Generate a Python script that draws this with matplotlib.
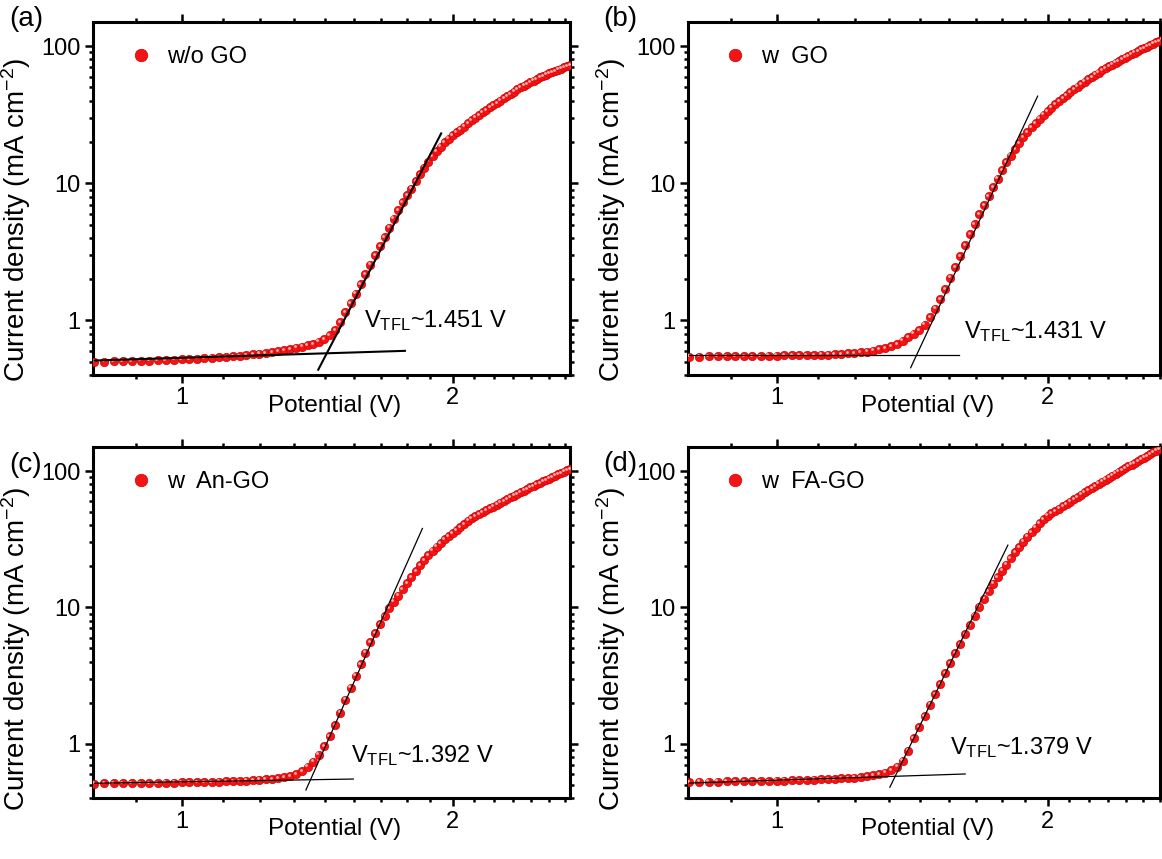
import numpy as np
import matplotlib
matplotlib.use('Agg')
import matplotlib.pyplot as plt
from matplotlib import transforms
from matplotlib.ticker import FixedLocator, FixedFormatter, NullFormatter

plt.rcParams['font.family'] = ['Liberation Sans', 'DejaVu Sans']
plt.rcParams['mathtext.fontset'] = 'custom'
plt.rcParams['mathtext.rm'] = 'Liberation Sans'
plt.rcParams['mathtext.it'] = 'Liberation Sans:italic'

# voltage sweep, 20 mV steps
potential = np.round(np.arange(0.80, 2.701, 0.02), 2)

j_a = [0.500, 0.501, 0.503, 0.504, 0.506, 0.508, 0.510, 0.512, 0.515, 0.517,
       0.520, 0.523, 0.526, 0.530, 0.534, 0.538, 0.542, 0.547, 0.552, 0.558,
       0.565, 0.572, 0.580, 0.589, 0.599, 0.610, 0.620, 0.632, 0.645, 0.660,
       0.675, 0.700, 0.730, 0.780, 0.845, 0.970, 1.15, 1.34, 1.57, 1.84,
       2.17, 2.55, 2.98, 3.48, 4.06, 4.74, 5.52, 6.38, 7.31, 8.20,
       9.15, 10.4, 11.7, 13.0, 14.4, 15.7, 17.1, 18.5, 19.9, 21.2,
       22.4, 23.5, 24.6, 25.9, 27.3, 28.7, 30.1, 31.5, 32.9, 34.3,
       35.7, 37.1, 38.6, 40.1, 41.7, 43.3, 44.9, 46.6, 48.3, 50.0,
       51.6, 53.1, 54.6, 56.1, 57.6, 59.1, 60.5, 61.9, 63.3, 64.7,
       66.0, 67.3, 68.6, 69.9, 71.2, 72.5]

j_b = [0.545, 0.545, 0.546, 0.547, 0.548, 0.549, 0.550, 0.551, 0.552, 0.553,
       0.554, 0.555, 0.556, 0.557, 0.558, 0.560, 0.562, 0.564, 0.567, 0.570,
       0.574, 0.579, 0.585, 0.593, 0.602, 0.614, 0.628, 0.648, 0.675, 0.712,
       0.755, 0.800, 0.850, 0.930, 1.06, 1.22, 1.43, 1.70, 2.05, 2.45,
       2.95, 3.55, 4.25, 5.05, 5.95, 6.95, 8.10, 9.35, 10.8, 12.4,
       14.2, 15.9, 17.7, 19.6, 21.6, 23.6, 25.6, 27.6, 29.6, 31.6,
       33.6, 35.6, 37.7, 39.8, 41.9, 44.0, 46.2, 48.4, 50.6, 52.8,
       55.0, 57.3, 59.6, 61.9, 64.2, 66.5, 68.8, 71.1, 73.4, 75.7,
       78.0, 80.3, 82.6, 85.0, 87.4, 89.8, 92.2, 94.6, 97.0, 99.4,
       101.8, 104.2, 106.6, 109.0, 111.4, 113.8]

j_c = [0.510, 0.511, 0.512, 0.513, 0.514, 0.515, 0.516, 0.517, 0.518, 0.519,
       0.520, 0.521, 0.522, 0.523, 0.525, 0.527, 0.529, 0.531, 0.534, 0.537,
       0.540, 0.544, 0.548, 0.553, 0.559, 0.567, 0.578, 0.597, 0.630, 0.680,
       0.740, 0.830, 0.960, 1.13, 1.37, 1.69, 2.10, 2.58, 3.15, 3.85,
       4.65, 5.55, 6.50, 7.50, 8.65, 9.85, 11.0, 12.2, 13.6, 15.1,
       16.6, 18.4, 20.3, 22.2, 24.1, 26.0, 27.9, 29.7, 31.5, 33.2,
       34.9, 36.9, 38.9, 41.0, 43.2, 45.0, 46.6, 48.2, 49.8, 51.5,
       53.2, 54.9, 56.7, 58.5, 60.3, 62.1, 64.0, 65.9, 67.8, 69.7,
       71.7, 73.7, 75.7, 77.7, 79.7, 81.8, 83.9, 86.0, 88.1, 90.2,
       92.3, 94.4, 96.6, 98.8, 101.0, 103.2]

j_d = [0.525, 0.526, 0.527, 0.528, 0.529, 0.530, 0.531, 0.532, 0.533, 0.534,
       0.535, 0.537, 0.539, 0.541, 0.543, 0.545, 0.547, 0.550, 0.553, 0.556,
       0.560, 0.565, 0.571, 0.578, 0.588, 0.600, 0.615, 0.640, 0.680, 0.750,
       0.890, 1.10, 1.33, 1.60, 1.93, 2.30, 2.75, 3.28, 3.90, 4.60,
       5.40, 6.35, 7.45, 8.70, 10.1, 11.6, 13.2, 14.9, 16.7, 18.6,
       20.6, 22.9, 25.3, 27.8, 30.4, 33.0, 35.7, 38.5, 41.3, 44.1,
       47.0, 48.9, 50.9, 53.0, 55.1, 57.3, 59.6, 62.0, 64.5, 67.0,
       69.6, 72.3, 75.0, 77.8, 80.6, 83.5, 86.4, 89.4, 92.5, 95.7,
       99.0, 102.0, 105.0, 108.2, 111.4, 114.8, 118.2, 121.8, 125.4, 129.2,
       133.0, 137.0, 141.1, 145.4, 149.7, 154.2]

# fitted lines (x pair, y pair)
tangent_a = ([1.418, 1.942], [0.437, 23.1])
base_a = ([0.80, 1.77], [0.51, 0.60])
tangent_b = ([1.409, 1.950], [0.452, 43.2])
base_b = ([0.80, 1.595], [0.555, 0.555])
tangent_c = ([1.374, 1.851], [0.458, 37.9])
base_c = ([0.80, 1.551], [0.513, 0.551])
tangent_d = ([1.336, 1.807], [0.480, 28.6])
base_d = ([0.80, 1.620], [0.515, 0.600])

names = ['w/o GO', 'w  GO', 'w  An-GO', 'w  FA-GO']
panel_tags = ['(a)', '(b)', '(c)', '(d)']
v_tfl = ['1.451', '1.431', '1.392', '1.379']

W, H = 1162, 859
fig = plt.figure(figsize=(W / 100, H / 100), dpi=100)

# pixel boxes: left, top, width, height
boxes = [(93, 22, 477, 353), (688, 22, 472, 353),
         (93, 447, 477, 351), (688, 447, 472, 351)]
xmax = [2.70, 2.667, 2.70, 2.667]
fit_lw = [1.5, 0.9, 0.9, 0.9]
vtfl_pos = [(0.568, 0.136), (0.585, 0.105), (0.540, 0.103), (0.555, 0.125)]
tag_pos = [(9, 19), (603, 19), (9, 465), (603, 464)]
ylab_y = [0.44, 0.44, 0.425, 0.425]

currents = [j_a, j_b, j_c, j_d]
tangents = [tangent_a, tangent_b, tangent_c, tangent_d]
bases = [base_a, base_b, base_c, base_d]

x_minor = [k / 9 for k in range(8, 25) if k % 9 != 0]
y_minor = [m * 10.0 ** e for e in (-1, 0, 1) for m in range(2, 10)]

for i in range(4):
    l, t, w, h = boxes[i]
    ax = fig.add_axes([l / W, 1 - (t + h) / H, w / W, h / H])

    ax.plot(potential, currents[i], 'o', ms=6.0, mfc='#f31515', mec='#d40000',
            mew=0.5, ls='none', label=names[i], zorder=3)
    shine = transforms.offset_copy(ax.transData, fig=fig, x=-1.3, y=1.3, units='dots')
    ax.plot(potential, currents[i], 'o', ms=2.0, mfc='#ffb3b3', mec='none',
            ls='none', transform=shine, zorder=4)

    ax.plot(tangents[i][0], tangents[i][1], color='k', lw=fit_lw[i], zorder=5)
    ax.plot(bases[i][0], bases[i][1], color='k', lw=fit_lw[i], zorder=5)

    ax.set_xscale('log')
    ax.set_yscale('log')
    ax.set_xlim(0.797, xmax[i])
    ax.set_ylim(0.4, 150)

    ax.xaxis.set_major_locator(FixedLocator([1, 2]))
    ax.xaxis.set_major_formatter(FixedFormatter(['1', '2']))
    ax.xaxis.set_minor_locator(FixedLocator(x_minor))
    ax.xaxis.set_minor_formatter(NullFormatter())
    ax.yaxis.set_major_locator(FixedLocator([1, 10, 100]))
    ax.yaxis.set_major_formatter(FixedFormatter(['1', '10', '100']))
    ax.yaxis.set_minor_locator(FixedLocator(y_minor))
    ax.yaxis.set_minor_formatter(NullFormatter())

    ax.tick_params(which='both', direction='out', top=True, right=True,
                   width=1.8, labelsize=17)
    ax.tick_params(which='major', length=5.5, pad=3.5)
    ax.tick_params(which='minor', length=3.2)
    for s in ax.spines.values():
        s.set_linewidth(2.2)

    ax.set_xlabel('Potential (V)', fontsize=17.5)
    ax.xaxis.set_label_coords(0.507, -0.058)
    ax.set_ylabel('Current density (mA cm$^{-2}$)', fontsize=20)
    ax.yaxis.set_label_coords(-60 / w, ylab_y[i])

    ax.text(vtfl_pos[i][0], vtfl_pos[i][1], r'V$_{\mathrm{TFL}}$~' + v_tfl[i] + ' V',
            transform=ax.transAxes, fontsize=17, va='baseline', ha='left')

    ax.legend(loc='upper left', bbox_to_anchor=((129 - 93) / 477, 1 - 24 / 353),
              frameon=False, fontsize=17, handlelength=1.0, handletextpad=0.6,
              borderpad=0, borderaxespad=0, markerscale=1.5, numpoints=1)

    fig.text(tag_pos[i][0] / W, 1 - tag_pos[i][1] / H, panel_tags[i],
             fontsize=20, va='center', ha='left')

fig.savefig('out.png', dpi=100)
